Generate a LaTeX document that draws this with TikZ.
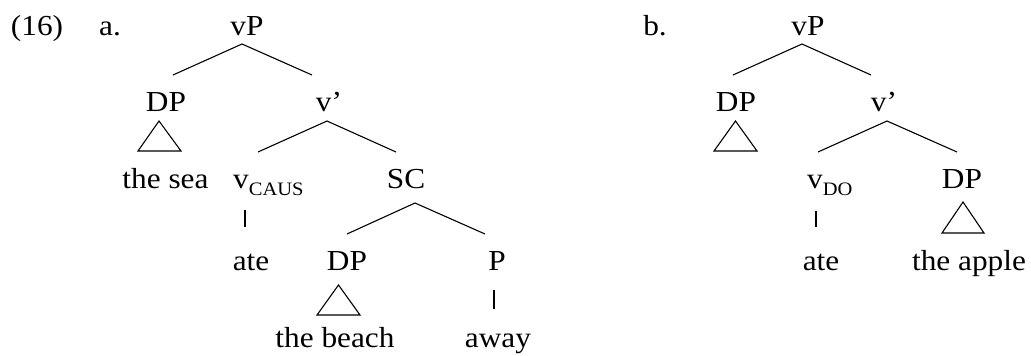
\documentclass[tikz,border=0pt]{standalone}
\usepackage{fontspec}
\setmainfont{Liberation Serif}[FakeStretch=1.08]
\newcommand{\subcaps}[1]{\raisebox{-7pt}{\fontsize{19}{19}\selectfont #1}}
\begin{document}
\begin{tikzpicture}[x=1pt,y=-1pt,
  lbl/.style={inner sep=0pt,anchor=base,font=\fontsize{29}{33}\selectfont},
  lblw/.style={inner sep=0pt,anchor=base west,font=\fontsize{29}{33}\selectfont},
  edge/.style={line width=1.1pt},
  tri/.style={line width=1.1pt,line join=miter}]
\useasboundingbox (0,0) rectangle (1031,356);
% ---------- (16) a. ----------
\node[lbl] (ex) at (37,35) {(16)};
\node[lbl] (la) at (110,35) {a.};
\node[lbl] (vPa) at (247,35) {vP};
\node[lbl] (DPa) at (166,111) {DP};
\node[lbl] (vba) at (329,111) {v'};
\node[lbl] (seaa) at (165.5,188) {the sea};
\node[lblw] (vcaus) at (233,188) {v\subcaps{CAUS}};
\node[lbl] (SC) at (406,188) {SC};
\node[lbl] (atea) at (251,270) {ate};
\node[lbl] (DPsc) at (347,270) {DP};
\node[lbl] (Psc) at (497,270) {P};
\node[lbl] (beach) at (335,347) {the beach};
\node[lbl] (away) at (498,347) {away};
% coordinates
\coordinate (vPa-s) at (242,44);
\coordinate (DPa-n) at (173,75);
\coordinate (vba-n) at (312,75);
\coordinate (vba-s) at (327,121);
\coordinate (vcaus-n) at (258,152);
\coordinate (SC-n) at (396,152);
\coordinate (SC-s) at (415,203);
\coordinate (DPsc-n) at (347,234);
\coordinate (Psc-n) at (485,234);
\draw[edge] (DPa-n) -- (vPa-s) -- (vba-n);
\draw[edge] (vcaus-n) -- (vba-s) -- (SC-n);
\draw[edge] (DPsc-n) -- (SC-s) -- (Psc-n);
\coordinate (vcaus-b) at (245,210);
\coordinate (atea-t) at (245,227);
\draw[edge] (vcaus-b) -- (atea-t);
\coordinate (Psc-b) at (494,290);
\coordinate (away-t) at (494,309);
\draw[edge] (Psc-b) -- (away-t);
\coordinate (t1a) at (159,121);
\coordinate (t1l) at (138,151);
\coordinate (t1r) at (181,151);
\draw[tri] (t1a) -- (t1l) -- (t1r) -- cycle;
\coordinate (t2a) at (338.5,285);
\coordinate (t2l) at (317,315);
\coordinate (t2r) at (360,315);
\draw[tri] (t2a) -- (t2l) -- (t2r) -- cycle;
% ---------- b. ----------
\node[lbl] (lb) at (655,35) {b.};
\node[lbl] (vPb) at (808,35) {vP};
\node[lbl] (DPb) at (736,111) {DP};
\node[lbl] (vbb) at (884,111) {v'};
\node[lblw] (vdo) at (807,188) {v\subcaps{DO}};
\node[lbl] (DPb2) at (962,188) {DP};
\node[lbl] (ateb) at (821,270) {ate};
\node[lbl] (apple) at (969,270) {the apple};
\coordinate (vPb-s) at (802,44);
\coordinate (DPb-n) at (733,75);
\coordinate (vbb-n) at (871,75);
\coordinate (vbb-s) at (887,121);
\coordinate (vdo-n) at (818,152);
\coordinate (DPb2-n) at (957,152);
\draw[edge] (DPb-n) -- (vPb-s) -- (vbb-n);
\draw[edge] (vdo-n) -- (vbb-s) -- (DPb2-n);
\coordinate (vdo-b) at (816,211);
\coordinate (ateb-t) at (816,227);
\draw[edge] (vdo-b) -- (ateb-t);
\coordinate (t3a) at (735.5,121);
\coordinate (t3l) at (714,151);
\coordinate (t3r) at (757,151);
\draw[tri] (t3a) -- (t3l) -- (t3r) -- cycle;
\coordinate (t4a) at (963,202);
\coordinate (t4l) at (942,233);
\coordinate (t4r) at (984,233);
\draw[tri] (t4a) -- (t4l) -- (t4r) -- cycle;
\end{tikzpicture}
\end{document}
